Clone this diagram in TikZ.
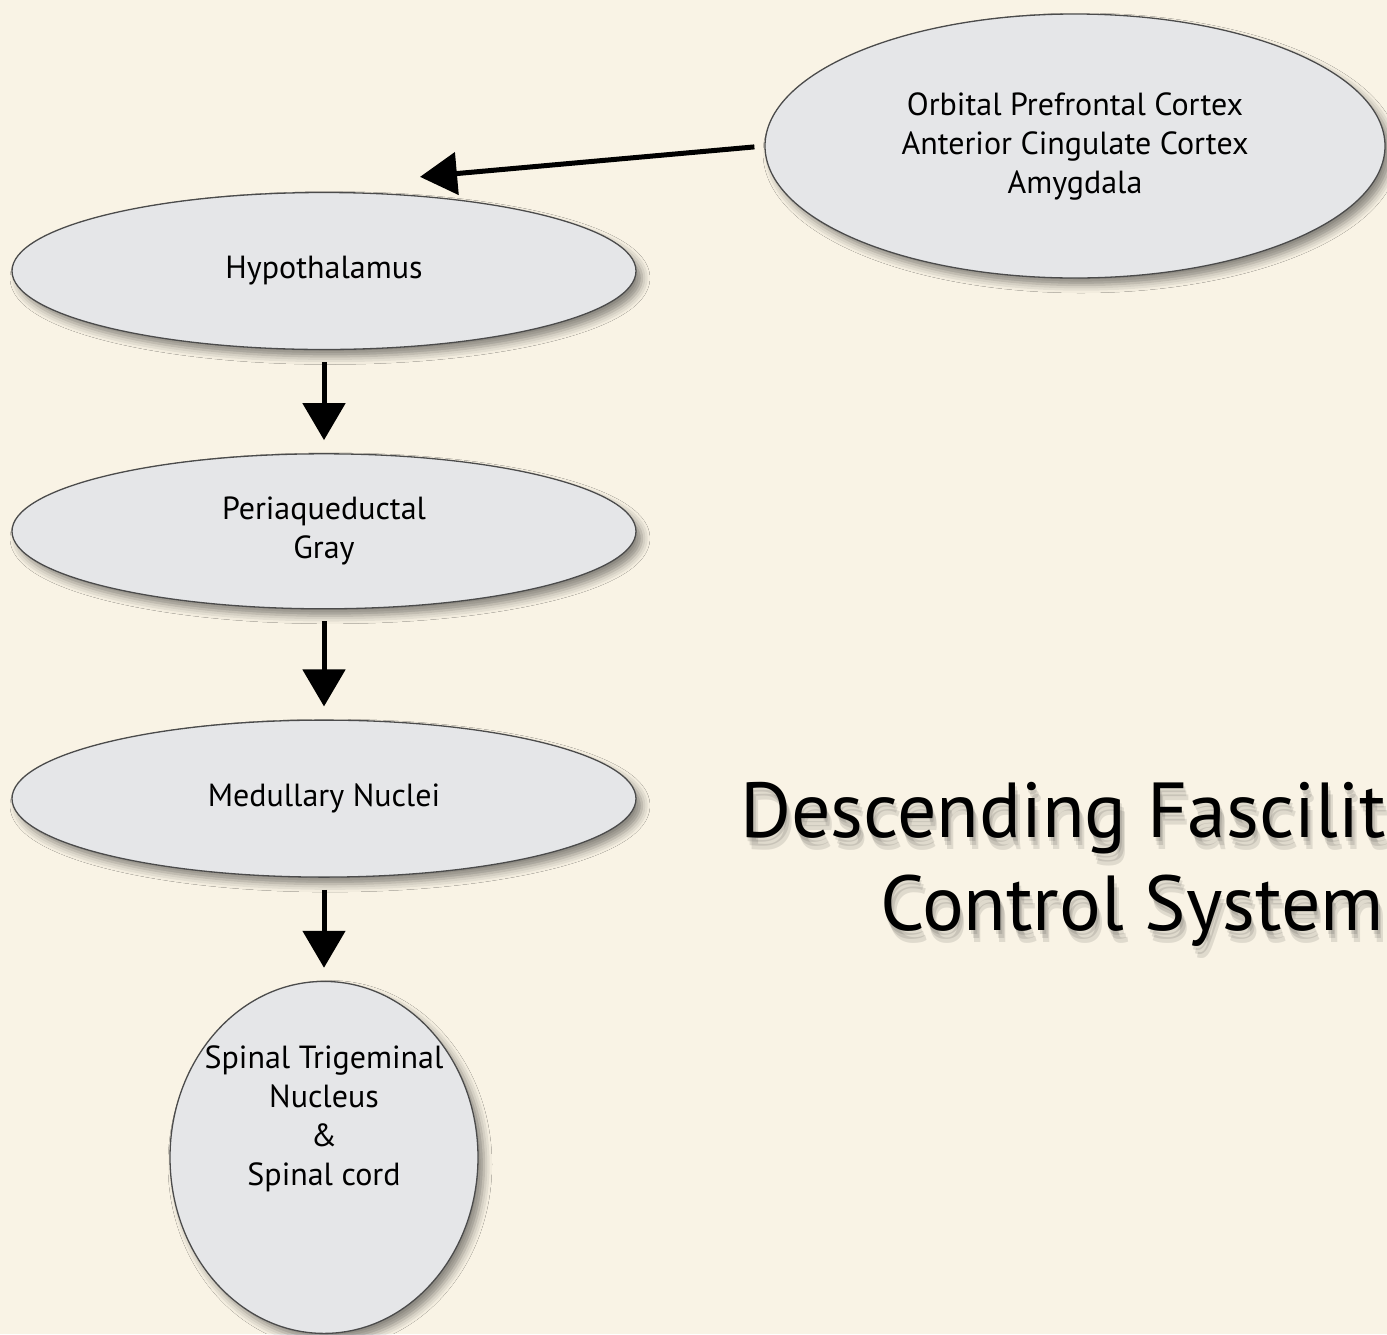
\documentclass[tikz,border=0pt]{standalone}
\usepackage{fontspec}
\setmainfont{PT Sans}
\usetikzlibrary{positioning, shapes.geometric, arrows.meta, shadows.blur}
\definecolor{paper}{RGB}{249,243,229}
\definecolor{bubble}{RGB}{229,230,232}
\definecolor{rim}{RGB}{75,75,75}

\begin{document}
\begin{tikzpicture}[x=1pt, y=1pt, node distance=103pt, blob/.style={draw=rim, line width=1.3pt, fill=bubble, ellipse, align=center, font=\fontsize{32}{39}\selectfont, blur shadow={shadow xshift=6pt, shadow yshift=-7pt, shadow blur radius=8pt, shadow opacity=45}}, arrow/.style={draw, -{Triangle[length=37pt, width=42pt]}, line width=5pt}, title/.style={anchor=base west, inner sep=0pt, font=\fontsize{78}{95}\selectfont}]
    % page
    \useasboundingbox (0,0) rectangle (1387,-1334);
    \fill[paper] (0,0) rectangle (1387,-1334);

    % nodes
    \node[blob, minimum width=624pt, minimum height=157pt] (A) at (324,-271) {Hypothalamus};
    \node[blob, minimum width=624pt, minimum height=155pt] (B) [below=of A] {Periaqueductal\\Gray};
    \node[blob, minimum width=624pt, minimum height=157pt] (C) [below=110pt of B] {Medullary Nuclei};
    \node[blob, minimum width=308pt, minimum height=352pt] (D) [below=of C] {};
    \node[align=center, font=\fontsize{32}{39}\selectfont] (Dtext) at ([yshift=39pt]D.center) {Spinal Trigeminal\\Nucleus\\\&\\Spinal cord};
    \node[blob, minimum width=620pt, minimum height=264pt] (E) at (1075,-146) {Orbital Prefrontal Cortex\\Anterior Cingulate Cortex\\Amygdala};

    % title with soft shadow
    \foreach \s in {4,8,12} {
        \node[title, text opacity=0.1] (S1-\s) at (740+0.4*\s,-837-\s) {Descending Fascilit};
        \node[title, text opacity=0.1] (S2-\s) at (880+0.4*\s,-930-\s) {Control System};
    }
    \node[title] (T1) at (740,-837) {Descending Fascilit};
    \node[title] (T2) at (880,-930) {Control System};

    % arrows
    \coordinate (Ain) at ([xshift=96pt, yshift=15pt]A.north);
    \draw[arrow, shorten <=10pt] (E.west) -- (Ain);
    \draw[arrow, shorten <=12pt, shorten >=13pt] (A) -- (B);
    \draw[arrow, shorten <=12pt, shorten >=13pt] (B) -- (C);
    \draw[arrow, shorten <=12pt, shorten >=13pt] (C) -- (D);
\end{tikzpicture}
\end{document}
